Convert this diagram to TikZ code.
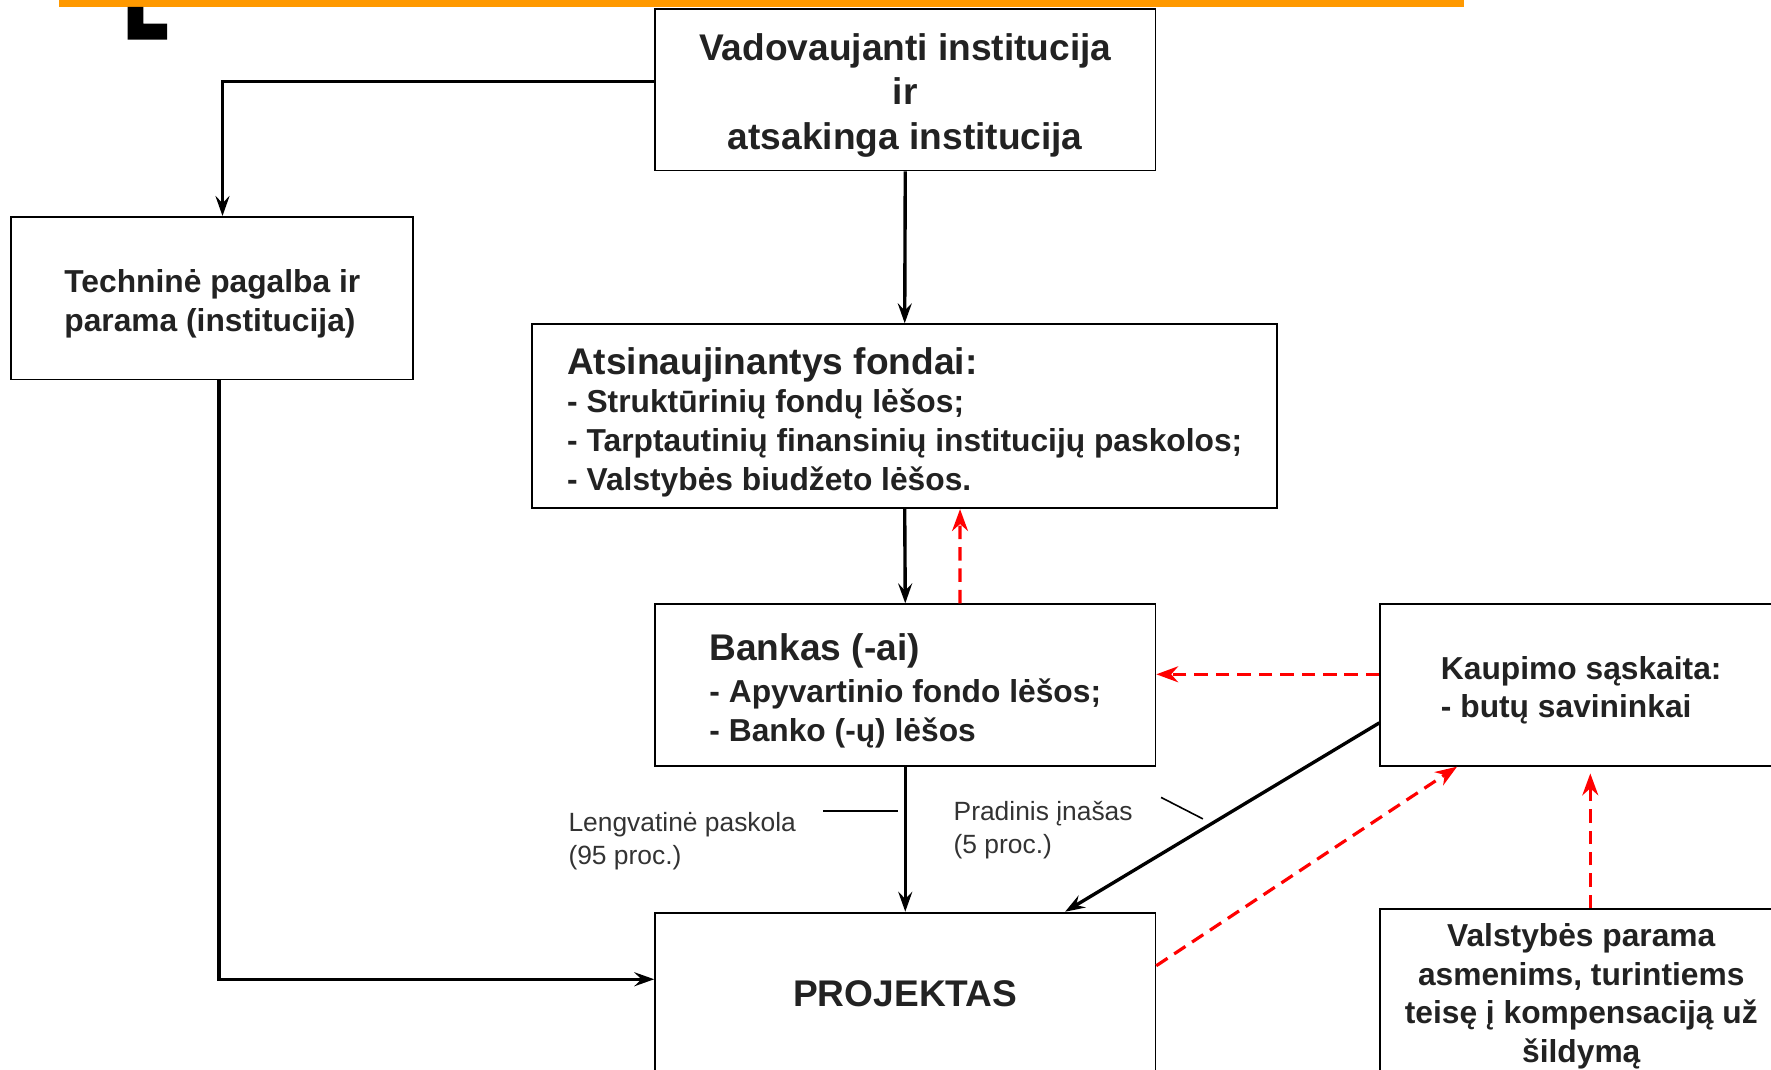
\documentclass[tikz,border=0pt]{standalone}
\usepackage{fontspec}
\setmainfont{Liberation Sans}
\usetikzlibrary{arrows.meta}

\definecolor{txtgray}{HTML}{222222}
\definecolor{lblgray}{HTML}{333333}
\definecolor{barorange}{HTML}{FF9900}
\newcommand{\headfont}{\fontsize{18.7}{22.5}\selectfont}
\newcommand{\topgap}[1]{\rule{0pt}{#1}}

\tikzset{
  box/.style={draw=black, line width=0.9pt, text=txtgray, align=center, inner sep=0pt,
    font=\bfseries\fontsize{16}{19.5}\selectfont},
  conn/.style={-{Stealth[length=10pt,width=7pt,inset=3.5pt]}, line width=1.7pt},
  redconn/.style={-{Stealth[length=11pt,width=8pt,inset=3.5pt]}, color=red,
    line width=1.6pt, dash pattern=on 6.8pt off 4pt},
  tick/.style={line width=0.8pt},
  lbl/.style={anchor=west, align=left, inner sep=0pt, text=lblgray,
    font=\fontsize{13.3}{16.5}\selectfont},
}

\begin{document}
\begin{tikzpicture}[x=0.02cm, y=-0.02cm]
\useasboundingbox (0,0) rectangle (1568,947);
\clip (0,0) rectangle (1568,947);

%top bar
\fill [barorange] (52,0) rectangle (1296,6);
\fill [black] (113,6) -- (127,6) -- (127,21) -- (148,21) -- (148,35) -- (113,35) -- cycle;

%boxes
\node [box, minimum width=8.86cm, minimum height=2.86cm, font=\bfseries\headfont] (vad) at (801.5,79.5)
  {\topgap{19pt}Vadovaujanti institucija\\ir\\atsakinga institucija};
\node [box, minimum width=7.12cm, minimum height=2.88cm, align=left] (tech) at (188,264)
  {\topgap{17pt}Techninė pagalba ir\\parama (institucija)};
\node [box, minimum width=13.2cm, minimum height=3.26cm, align=left] (atsin) at (801,368.5)
  {{\headfont\topgap{19.5pt}Atsinaujinantys fondai:}\\- Struktūrinių fondų lėšos;\\- Tarptautinių finansinių institucijų paskolos;\\- Valstybės biudžeto lėšos.};
\node [box, minimum width=8.86cm, minimum height=2.86cm, align=left] (bank) at (801.5,606.5)
  {{\headfont\topgap{19.5pt}Bankas (-ai)}\\[1.5pt]- Apyvartinio fondo lėšos;\\- Banko (-ų) lėšos};
\node [box, minimum width=7.12cm, minimum height=2.86cm, align=left] (kaup) at (1400,606.5)
  {\topgap{17pt}Kaupimo sąskaita:\\- butų savininkai};
\node [box, minimum width=8.86cm, minimum height=2.86cm, font=\bfseries\headfont] (proj) at (801.5,879.5)
  {PROJEKTAS};
\node [box, minimum width=7.12cm, minimum height=2.86cm] (valst) at (1400,876.5)
  {\topgap{18pt}Valstybės parama\\asmenims, turintiems\\teisę į kompensaciją už\\šildymą};

%labels
\node [lbl] (lengv) at (503,745) {Lengvatinė paskola\\(95 proc.)};
\node [lbl] (pradin) at (844,735) {Pradinis įnašas\\(5 proc.)};
\coordinate (lengvA) at (729,718);
\coordinate (lengvB) at (795,718);
\coordinate (pradinA) at (1028,706);
\coordinate (pradinB) at (1065,725);
\path [tick] (lengvA) edge (lengvB);
\path [tick] (pradinA) edge (pradinB);

%black arrows
\draw [conn] ([yshift=0.15cm]vad.west) -| ([xshift=0.18cm]tech.north);
\path [conn] (vad.south) edge (atsin.north);
\path [conn] (atsin.south) edge (bank.north);
\path [conn] (bank.south) edge (proj.north);
\path [conn] ([yshift=-0.67cm]kaup.west) edge ([xshift=2.83cm]proj.north);
\draw [conn] ([xshift=0.12cm]tech.south) |- ([yshift=0.25cm]proj.west);

%red arrows
\path [redconn] ([xshift=0.97cm]bank.north) edge ([xshift=0.98cm]atsin.south);
\path [redconn] ([yshift=0.19cm]kaup.west) edge ([yshift=0.19cm]bank.east);
\path [redconn] ([yshift=0.49cm]proj.east) edge ([xshift=-2.2cm]kaup.south);
\path [redconn, shorten >=0.12cm] ([xshift=0.16cm]valst.north) edge ([xshift=0.16cm]kaup.south);
\end{tikzpicture}
\end{document}
